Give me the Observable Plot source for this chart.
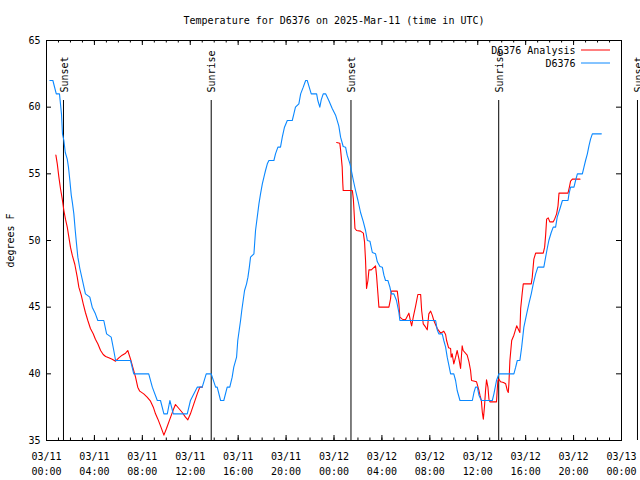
<!DOCTYPE html>
<html><head><meta charset="utf-8">
<script src="https://cdn.jsdelivr.net/npm/d3@7"></script>
<script src="https://cdn.jsdelivr.net/npm/@observablehq/plot@0.6"></script>
<style>body{margin:0;background:#fff}</style>
</head><body><div id="chart"></div>
<script>
const title = "Temperature for D6376 on 2025-Mar-11 (time in UTC)";
const yLabel = "degrees F";
const seriesNames = ["D6376 Analysis", "D6376"];
const seriesColors = ["#ff0000", "#0a88ff"];

// observations (D6376), times are "DD HH:MM" in March 2025 UTC
const obsTimes = ["11 00:17","11 00:32","11 00:37","11 00:49","11 01:05","11 01:15","11 01:20","11 01:27","11 01:34","11 01:44","11 01:50","11 01:57","11 02:04","11 02:10","11 02:17","11 02:24","11 02:30","11 02:37","11 02:47","11 03:04","11 03:15","11 03:37","11 03:49","11 04:05","11 04:17","11 04:47","11 05:01","11 05:24","11 05:37","11 05:46","11 07:01","11 07:17","11 08:32","11 08:50","11 09:15","11 09:31","11 09:48","11 10:05","11 10:18","11 10:35","11 11:45","11 12:01","11 12:35","11 13:00","11 13:20","11 13:45","11 14:07","11 14:15","11 14:32","11 14:48","11 15:05","11 15:18","11 15:30","11 15:38","11 15:52","11 15:58","11 16:05","11 16:12","11 16:18","11 16:25","11 16:32","11 16:42","11 16:49","11 16:56","11 17:02","11 17:19","11 17:27","11 17:44","11 17:52","11 18:01","11 18:09","11 18:17","11 18:26","11 18:34","11 18:59","11 19:07","11 19:19","11 19:32","11 19:41","11 19:52","11 20:06","11 20:31","11 20:39","11 20:47","11 21:04","11 21:13","11 21:26","11 21:38","11 21:46","11 21:54","11 22:06","11 22:33","11 22:39","11 22:49","11 22:56","11 23:06","11 23:18","11 23:34","11 23:51","12 00:08","12 00:24","12 00:33","12 00:46","12 00:58","12 01:06","12 01:20","12 01:27","12 01:37","12 01:48","12 02:00","12 02:13","12 02:27","12 02:38","12 02:47","12 03:00","12 03:12","12 03:28","12 03:37","12 03:50","12 04:02","12 04:10","12 04:18","12 04:30","12 04:40","12 04:47","12 05:00","12 05:13","12 05:25","12 05:30","12 08:29","12 08:37","12 08:45","12 09:02","12 09:10","12 09:19","12 09:27","12 09:36","12 09:44","12 10:00","12 10:09","12 10:17","12 10:31","12 11:33","12 11:41","12 11:49","12 11:58","12 12:06","12 12:18","12 13:13","12 13:21","12 13:34","12 13:46","12 15:01","12 15:10","12 15:18","12 15:31","12 15:40","12 15:51","12 16:05","12 16:16","12 16:28","12 16:38","12 16:50","12 17:01","12 17:31","12 17:40","12 17:48","12 17:56","12 18:08","12 18:18","12 18:30","12 18:38","12 18:52","12 19:04","12 19:32","12 19:37","12 19:45","12 20:02","12 20:10","12 20:19","12 20:44","12 20:52","12 21:00","12 21:09","12 21:17","12 21:25","12 21:34","12 22:19"];
const obsTemps = [62,62,61.7,61,61,59.5,58,57.5,56.6,56.1,55.5,54.5,53.4,52.8,52,50.75,49.8,48.75,47.9,46.75,46,45.75,45,44.5,44,44,43,42.75,41.75,41,41,40,40,39,38,38,37,37,38,37,37,38,39,39,40,40,39,39,38,38,39,39,39.75,40.5,41.25,42.5,43.25,44,44.75,45.5,46.25,46.75,47.25,48,48.75,49,50.75,52.75,53.5,54.25,54.75,55.25,55.75,56,56,56.5,57,57,57.75,58.5,59,59,59.5,60,60.25,61,61.5,62,62,61.6,61,61,60.5,60,60.55,61,61,60.5,59.9,59.4,58.6,57.75,57.05,57,56.4,55.75,55.25,54.5,53.75,53,52.1,51.4,50.75,50,49.95,49.1,49,48.4,48.05,48,47.4,47,47,46.5,46,46,45.5,44.6,44,44,43.3,43,43,42.5,42,41.25,40.6,40,40,39.5,38.75,38,38,38.6,39,39,38.4,38,38,38.5,39.5,40,40,40.5,41,41,42,43.5,44.5,45.25,46,46.75,47.5,48,48,48.75,49.4,50,50.6,51,51,51.75,52.4,53,53,53.5,54,54,54.5,55,55,55.5,56,56.5,57.1,57.6,58,58];

// analysis (D6376 Analysis); null marks the gap in the record
const anaTimes = ["11 00:47","11 00:54","11 01:02","11 01:10","11 01:19","11 01:27","11 01:35","11 01:44","11 01:52","11 02:00","11 02:09","11 02:22","11 02:34","11 02:42","11 02:54","11 03:04","11 03:15","11 03:27","11 03:40","11 03:54","11 04:05","11 04:17","11 04:31","11 04:44","11 04:56","11 05:12","11 05:29","11 05:46","11 06:02","11 06:19","11 06:36","11 06:47","11 07:01","11 07:12","11 07:26","11 07:37","11 07:47","11 08:07","11 08:24","11 08:41","11 08:55","11 09:06","11 09:18","11 09:31","11 09:48","11 10:01","11 10:18","11 10:35","11 10:46","11 11:03","11 11:20","11 11:36","11 11:48","11 12:01","11 12:18","11 12:35","11 12:48","11 13:00","11 13:05","12 00:13","12 00:29","12 00:33","12 00:41","12 00:44","12 00:46","12 01:32","12 01:37","12 01:40","12 01:45","12 01:53","12 02:13","12 02:27","12 02:33","12 02:38","12 02:43","12 02:50","12 02:55","12 03:07","12 03:28","12 03:33","12 03:40","12 03:45","12 04:35","12 04:43","12 04:47","12 05:17","12 05:25","12 05:30","12 05:42","12 05:58","12 06:15","12 06:24","12 06:29","12 06:37","12 06:49","12 07:00","12 07:14","12 07:19","12 07:27","12 07:39","12 07:47","12 07:55","12 08:04","12 08:12","12 08:20","12 08:37","12 08:54","12 09:10","12 09:19","12 09:24","12 09:34","12 09:44","12 09:47","12 09:52","12 10:00","12 10:09","12 10:17","12 10:26","12 10:34","12 10:42","12 10:47","12 11:07","12 11:16","12 11:24","12 11:29","12 11:54","12 12:06","12 12:11","12 12:18","12 12:23","12 12:28","12 12:34","12 12:39","12 12:44","12 12:51","12 12:56","12 13:01","12 13:34","12 13:38","12 13:41","12 13:46","12 13:54","12 14:09","12 14:20","12 14:28","12 14:33","12 14:36","12 14:41","12 14:50","12 15:01","12 15:15","12 15:26","12 15:31","12 15:35","12 15:43","12 15:48","12 16:28","12 16:33","12 16:41","12 16:50","12 17:28","12 17:35","12 17:40","12 17:45","12 17:53","12 18:01","12 18:18","12 18:25","12 18:35","12 18:42","12 18:47","12 19:32","12 19:39","12 19:45","12 19:54","12 20:32"];
const anaTemps = [56.4,55.75,54.75,53.9,53.1,52.25,51.6,51,50.25,49.5,48.9,48.2,47.25,46.5,45.9,45.25,44.6,44,43.4,43,42.6,42.25,41.75,41.45,41.3,41.2,41.1,40.95,41.2,41.4,41.55,41.75,41.1,40.5,39.75,39,38.7,38.5,38.25,37.95,37.5,37,36.6,36.1,35.4,35.9,36.6,37.3,37.7,37.4,37.1,36.75,36.55,37,37.75,38.5,39,39,null,57.35,57.3,56.8,55.5,54.3,53.75,53.75,53.1,52.3,50.9,50.75,50.7,50.55,49.9,48.5,46.4,47,47.8,47.8,48.1,47.4,46,45,45,45.6,46.2,46.2,45.25,44.25,44.1,44.05,44.55,43.9,43.6,44.25,45.1,45.95,45.95,44.75,43.75,43.5,43.3,44.5,44.7,44.4,44,43.4,43.05,43.2,42.95,42.5,41.95,41.9,41.25,41.5,40.75,41.25,41.75,41.1,40.4,42.1,41.75,41.4,40.9,40.25,39.5,39.4,38.75,38.4,38,37.1,36.6,37.6,38.75,39.55,39,38.1,37.9,37.9,38.9,39.5,39.6,39.4,39.35,39.25,38.75,38.6,39.25,41,42.5,42.9,43.6,43.25,43.1,44.9,46.1,46.75,46.75,47.25,48.6,49.05,49.05,49.5,50.4,51.6,51.7,51.4,51.4,51.6,52,52.6,53.55,53.55,54,54.45,54.6,54.6];

const sunTimes = ["11 01:25","11 13:45","12 01:25","12 13:45","13 01:20"];
const sunLabels = ["Sunset","Sunrise","Sunset","Sunrise","Sunset"];

const xTickTimes = ["11 00:00","11 04:00","11 08:00","11 12:00","11 16:00","11 20:00","12 00:00","12 04:00","12 08:00","12 12:00","12 16:00","12 20:00","13 00:00"];
const xTickLabels = ["03/11\n00:00","03/11\n04:00","03/11\n08:00","03/11\n12:00","03/11\n16:00","03/11\n20:00","03/12\n00:00","03/12\n04:00","03/12\n08:00","03/12\n12:00","03/12\n16:00","03/12\n20:00","03/13\n00:00"];
const yTicks = [35, 40, 45, 50, 55, 60, 65];

const parse = s => new Date(`2025-03-${s.replace(" ", "T")}:00Z`);
const obs = obsTimes.map((s, i) => ({t: parse(s), v: obsTemps[i]}));
const ana = anaTimes.map((s, i) => ({t: parse(s), v: anaTemps[i] == null ? NaN : anaTemps[i]}));
const sun = sunTimes.map((s, i) => ({t: parse(s), label: sunLabels[i]}));
const major = xTickTimes.map(parse);
const xDomain = [major[0], major[major.length - 1]];
const yDomain = [yTicks[0], yTicks[yTicks.length - 1]];
const minor = d3.utcHour.range(xDomain[0], d3.utcHour.offset(xDomain[1], 1));

const W = 640, H = 480, mL = 46, mR = 19, mT = 40, mB = 40;
const fw = W - mL - mR, fh = H - mT - mB;
const ruleTop = 60.5;

const chart = Plot.plot({
  width: W, height: H,
  marginLeft: mL, marginRight: mR, marginTop: mT, marginBottom: mB,
  style: {fontFamily: "'DejaVu Sans Mono', monospace", fontSize: "10px", background: "#fff", color: "#000", overflow: "visible"},
  x: {type: "utc", domain: xDomain, axis: null},
  y: {domain: yDomain, axis: null},
  marks: [
    Plot.ruleX(sun, {x: "t", y1: yDomain[0], y2: ruleTop, stroke: "#000", strokeWidth: 1}),
    Plot.text(sun, {x: "t", y: ruleTop, text: "label", rotate: -90, textAnchor: "start", lineAnchor: "middle", dy: -8, dx: 1, fill: "#000"}),
    Plot.line(ana, {x: "t", y: "v", stroke: seriesColors[0], strokeWidth: 1.1}),
    Plot.line(obs, {x: "t", y: "v", stroke: seriesColors[1], strokeWidth: 1.1}),
    Plot.frame({stroke: "#000", strokeWidth: 1}),
    Plot.tickX(minor, {x: d => d, insetTop: fh - 2.5, stroke: "#000"}),
    Plot.tickX(minor, {x: d => d, insetBottom: fh - 2.5, stroke: "#000"}),
    Plot.tickX(major, {x: d => d, insetTop: fh - 5, stroke: "#000"}),
    Plot.tickX(major, {x: d => d, insetBottom: fh - 5, stroke: "#000"}),
    Plot.tickY(yTicks, {y: d => d, insetRight: fw - 5, stroke: "#000"}),
    Plot.tickY(yTicks, {y: d => d, insetLeft: fw - 5, stroke: "#000"}),
    Plot.text(major, {x: d => d, text: (d, i) => xTickLabels[i], frameAnchor: "bottom", lineAnchor: "middle", textAnchor: "middle", dy: 22.5, lineHeight: 1.5, fill: "#000"}),
    Plot.text(yTicks, {y: d => d, text: d => String(d), frameAnchor: "left", textAnchor: "end", lineAnchor: "middle", dx: -6, fill: "#000"}),
    Plot.text([title], {frameAnchor: "top", textAnchor: "middle", lineAnchor: "middle", dy: -20, fill: "#000"}),
    Plot.text([yLabel], {frameAnchor: "left", textAnchor: "middle", lineAnchor: "middle", rotate: -90, dx: -36, fill: "#000"}),
    Plot.text([seriesNames[0]], {frameAnchor: "top-right", textAnchor: "end", lineAnchor: "middle", dx: -46, dy: 10, fill: "#000"}),
    Plot.text([seriesNames[1]], {frameAnchor: "top-right", textAnchor: "end", lineAnchor: "middle", dx: -46, dy: 23, fill: "#000"}),
    Plot.ruleY([yDomain[1]], {dy: 9.5, insetLeft: 535, insetRight: 11, stroke: seriesColors[0]}),
    Plot.ruleY([yDomain[1]], {dy: 22.5, insetLeft: 535, insetRight: 11, stroke: seriesColors[1]})
  ]
});
document.getElementById("chart").appendChild(chart);
</script>
</body></html>
